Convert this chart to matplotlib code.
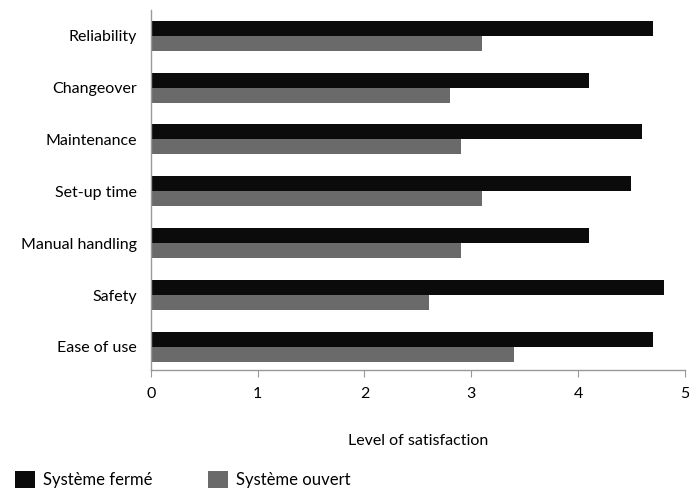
import numpy as np
import matplotlib.pyplot as plt

plt.rcParams['font.family'] = ['Lato', 'DejaVu Sans']

categories = ["Ease of use", "Safety", "Manual handling", "Set-up time",
              "Maintenance", "Changeover", "Reliability"]
ferme = [4.7, 4.8, 4.1, 4.5, 4.6, 4.1, 4.7]
ouvert = [3.4, 2.6, 2.9, 3.1, 2.9, 2.8, 3.1]
series_names = ["Système fermé", "Système ouvert"]

fig = plt.figure(figsize=(6.89, 4.91), dpi=100)
ax = fig.add_axes([0.219, 0.246, 0.775, 0.734])

y = np.arange(len(categories))
h = 0.29
ax.barh(y + h / 2, ferme, height=h, color='#0b0b0b', label=series_names[0])
ax.barh(y - h / 2, ouvert, height=h, color='#6a6a6a', label=series_names[1])

ax.set_xlim(0, 5)
ax.set_ylim(-0.45, 6.5)
ax.set_yticks(y)
ax.set_yticklabels(categories, fontsize=11.5)
ax.set_xticks(range(6))
ax.tick_params(axis='y', length=0, pad=10)
ax.tick_params(axis='x', length=5, color='#999999', labelsize=11.5, pad=7)
ax.set_xlabel("Level of satisfaction", fontsize=11.5, labelpad=24)

for s in ['top', 'right']:
    ax.spines[s].set_visible(False)
for s in ['left', 'bottom']:
    ax.spines[s].set_color('#999999')
    ax.spines[s].set_linewidth(1)

fig.legend(loc='lower left', bbox_to_anchor=(0.0, -0.025), ncol=2, frameon=False,
           fontsize=12, handlelength=1.2, handleheight=1.2, columnspacing=3.3,
           handletextpad=0.5)

fig.savefig('out.png', dpi=100)
